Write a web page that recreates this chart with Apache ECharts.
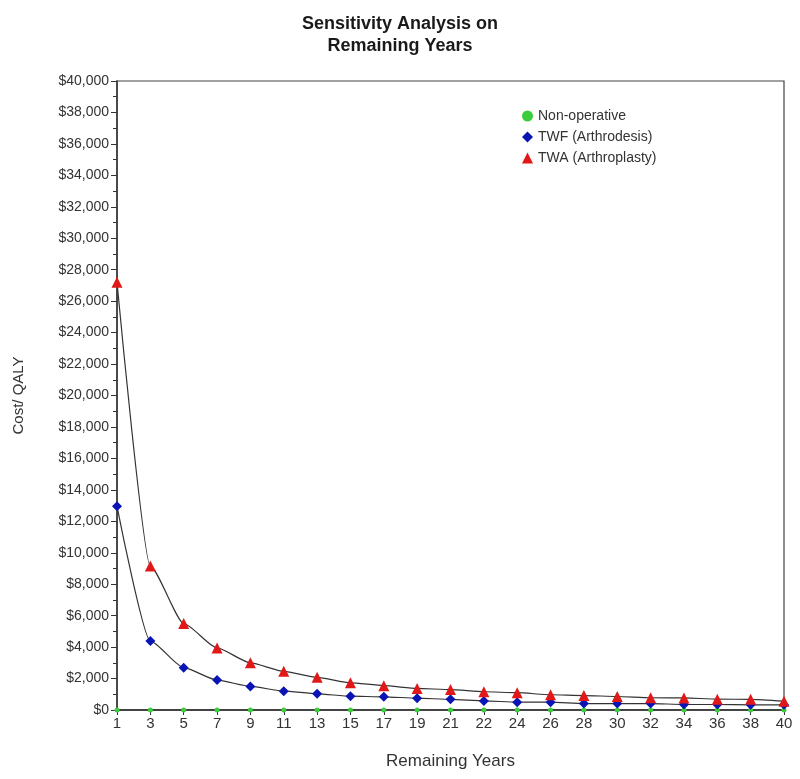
<!DOCTYPE html>
<html>
<head>
<meta charset="utf-8">
<script src="https://cdn.jsdelivr.net/npm/echarts@6/dist/echarts.min.js"></script>
<style>html,body{margin:0;padding:0;background:#fff;}#c{width:800px;height:779px;}</style>
</head>
<body>
<div id="c"></div>
<script>
var years = ['1','3','5','7','9','11','13','15','17','19','21','22','24','26','28','30','32','34','36','38','40'];
var nonOperative = [0,0,0,0,0,0,0,0,0,0,0,0,0,0,0,0,0,0,0,0,0];
var twf = [12950,4380,2690,1900,1500,1200,1030,880,840,750,680,580,500,500,410,410,410,350,350,330,330];
var twa = [27200,9150,5500,3950,3000,2460,2080,1730,1550,1370,1300,1160,1100,970,920,860,780,770,690,680,560];

var chart = echarts.init(document.getElementById('c'));
var font = 'Liberation Sans, Arial, sans-serif';
function money(v){ return '$' + String(v).replace(/\B(?=(\d{3})+(?!\d))/g, ','); }
chart.setOption({
  animation: false,
  backgroundColor: '#fff',
  title: {
    text: 'Sensitivity Analysis on\nRemaining Years',
    left: 'center', top: 8,
    textStyle: { fontFamily: font, fontSize: 18, fontWeight: 'bold', color: '#1a1a1a', lineHeight: 22 }
  },
  legend: {
    orient: 'vertical', left: 517, top: 104, itemGap: 7,
    itemWidth: 11, itemHeight: 11,
    textStyle: { fontFamily: font, fontSize: 14, color: '#333' },
    data: [
      { name: 'Non-operative', icon: 'circle' },
      { name: 'TWF (Arthrodesis)', icon: 'diamond' },
      { name: 'TWA (Arthroplasty)', icon: 'triangle' }
    ]
  },
  grid: { left: 117, right: 16, top: 81, bottom: 69, show: true, borderColor: '#444', borderWidth: 1.2 },
  xAxis: {
    type: 'category', data: years, boundaryGap: false,
    name: 'Remaining Years', nameLocation: 'middle', nameGap: 43,
    nameTextStyle: { fontFamily: font, fontSize: 17, color: '#333' },
    axisLine: { lineStyle: { color: '#333', width: 1.5 } },
    axisTick: { show: true, length: 5, alignWithLabel: true, lineStyle: { color: '#333' } },
    axisLabel: { fontFamily: font, fontSize: 15, color: '#333', interval: 0, margin: 6 },
    splitLine: { show: false }
  },
  yAxis: {
    type: 'value', min: 0, max: 40000, interval: 2000,
    name: 'Cost/ QALY', nameLocation: 'middle', nameGap: 91,
    nameTextStyle: { fontFamily: font, fontSize: 15, color: '#333' },
    axisLine: { show: true, lineStyle: { color: '#333', width: 1.5 } },
    axisTick: { show: true, length: 6, lineStyle: { color: '#333' } },
    minorTick: { show: true, splitNumber: 2, length: 4, lineStyle: { color: '#333' } },
    axisLabel: { fontFamily: font, fontSize: 14, color: '#333', margin: 8, formatter: money },
    splitLine: { show: false }
  },
  series: [
    { name: 'Non-operative', type: 'line', data: nonOperative, symbol: 'circle', symbolSize: 5,
      itemStyle: { color: '#3ccc3c' }, lineStyle: { color: '#333', width: 1.2 }, z: 3 },
    { name: 'TWF (Arthrodesis)', type: 'line', data: twf, symbol: 'diamond', symbolSize: 10,
      smooth: 0.2, smoothMonotone: 'x',
      itemStyle: { color: '#0a14b4' }, lineStyle: { color: '#333', width: 1.2 }, z: 4 },
    { name: 'TWA (Arthroplasty)', type: 'line', data: twa, symbol: 'triangle', symbolSize: 11,
      smooth: 0.2, smoothMonotone: 'x',
      itemStyle: { color: '#e01818' }, lineStyle: { color: '#333', width: 1.2 }, z: 5 }
  ]
});
</script>
</body>
</html>
